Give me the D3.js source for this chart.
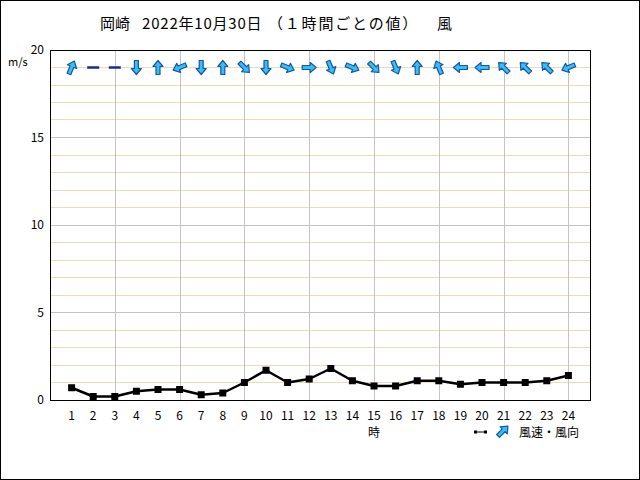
<!DOCTYPE html>
<html><head><meta charset="utf-8">
<script src="https://cdn.jsdelivr.net/npm/d3@7"></script>
<style>body{margin:0;background:#fff}svg{display:block}text{font-family:"Noto Sans CJK JP","DejaVu Sans",sans-serif;}</style>
</head><body>
<svg id="c" width="640" height="480"></svg>
<script>
const hours = [1,2,3,4,5,6,7,8,9,10,11,12,13,14,15,16,17,18,19,20,21,22,23,24];
const speed = [0.7,0.2,0.2,0.5,0.6,0.6,0.3,0.4,1.0,1.7,1.0,1.2,1.8,1.1,0.8,0.8,1.1,1.1,0.9,1.0,1.0,1.0,1.1,1.4];
// arrow pointing bearing (deg clockwise from up); null = calm
const arrowDeg = [22.5,null,null,180,0,247.5,180,0,135,180,112.5,90,157.5,112.5,135,157.5,0,337.5,270,270,315,315,315,247.5];
const yTicks = [0,5,10,15,20];
const titleParts = ["岡崎","2022年10月30日","（１時間ごとの値）","風"];

const svg = d3.select("#c");
svg.append("rect").attr("x",0.5).attr("y",0.5).attr("width",639).attr("height",479).attr("fill","#fff").attr("stroke","#000");

const x = d3.scaleLinear().domain([0,25]).range([50,590]);
const y = d3.scaleLinear().domain([0,20]).range([400,50]);

// minor gridlines
svg.append("g").selectAll("line").data(d3.range(1,20).filter(v=>v%5!==0)).join("line")
  .attr("x1",x(0)).attr("x2",x(25)).attr("y1",d=>Math.floor(y(d))+0.5).attr("y2",d=>Math.floor(y(d))+0.5)
  .attr("stroke","#eadcb4").attr("stroke-width",1);
// major horizontal
svg.append("g").selectAll("line").data([5,10,15]).join("line")
  .attr("x1",x(0)).attr("x2",x(25)).attr("y1",d=>Math.floor(y(d))+0.5).attr("y2",d=>Math.floor(y(d))+0.5)
  .attr("stroke","#c4c4c4");
// vertical
svg.append("g").selectAll("line").data(d3.range(3,25,3)).join("line")
  .attr("x1",d=>Math.round(x(d))+0.5).attr("x2",d=>Math.round(x(d))+0.5).attr("y1",y(20)).attr("y2",y(0))
  .attr("stroke","#c4c4c4");
// frame
svg.append("rect").attr("x",50.5).attr("y",50.5).attr("width",x(25)-x(0)).attr("height",y(0)-y(20)).attr("fill","none").attr("stroke","#000");

// axes labels
svg.append("g").selectAll("text").data(yTicks).join("text")
  .attr("x",44).attr("y",d=>y(d)+4).attr("text-anchor","end").attr("font-size",12).text(d=>d);
svg.append("text").attr("x",8).attr("y",66).attr("font-size",11).text("m/s");
svg.append("g").selectAll("text").data(hours).join("text")
  .attr("x",d=>x(d)).attr("y",420).attr("text-anchor","middle").attr("font-size",12).text(d=>d);
svg.append("text").attr("x",x(15)).attr("y",437).attr("text-anchor","middle").attr("font-size",12).text("時");

// title
const tx = [100,142,268,437];
const tls = [0,0.8,1.8,0];
svg.append("g").selectAll("text").data(titleParts).join("text")
  .attr("x",(d,i)=>tx[i]).attr("y",29).attr("font-size",15).attr("letter-spacing",(d,i)=>tls[i]).text(d=>d);

// line
const line = d3.line().x((d,i)=>x(hours[i])).y(d=>y(d));
svg.append("path").datum(speed).attr("d",line).attr("fill","none").attr("stroke","#000").attr("stroke-width",2.5).attr("stroke-linejoin","round");
svg.append("g").selectAll("rect").data(speed).join("rect")
  .attr("x",(d,i)=>x(hours[i])-3.5).attr("y",d=>y(d)-3.5).attr("width",7).attr("height",7).attr("fill","#000");

// arrows
const arrowPath = "M0,-7 L5,-1 L2,-1 L2,7 L-2,7 L-2,-1 L-5,-1 Z";
const ay = y(19);
const ag = svg.append("g");
hours.forEach((h,i)=>{
  const a = arrowDeg[i];
  if (a===null) {
    ag.append("line").attr("x1",x(h)-6).attr("x2",x(h)+6).attr("y1",ay).attr("y2",ay).attr("stroke","#1a2a8a").attr("stroke-width",2.5);
  } else {
    ag.append("path").attr("d",arrowPath).attr("transform",`translate(${x(h)},${ay}) rotate(${a})`)
      .attr("fill","#38bff2").attr("stroke","#1656a8").attr("stroke-width",1.2).attr("stroke-linejoin","round");
  }
});

// legend
const lg = svg.append("g");
lg.append("line").attr("x1",476).attr("x2",485).attr("y1",432).attr("y2",432).attr("stroke","#000").attr("stroke-width",1);
lg.append("rect").attr("x",474).attr("y",430.5).attr("width",3).attr("height",3).attr("fill","#000");
lg.append("rect").attr("x",484).attr("y",430.5).attr("width",3).attr("height",3).attr("fill","#000");
lg.append("path").attr("d",arrowPath).attr("transform","translate(503,431) rotate(45)")
  .attr("fill","#38bff2").attr("stroke","#1656a8").attr("stroke-width",1.2).attr("stroke-linejoin","round");
lg.append("text").attr("x",519).attr("y",437).attr("font-size",12).text("風速・風向");
</script>
</body></html>
